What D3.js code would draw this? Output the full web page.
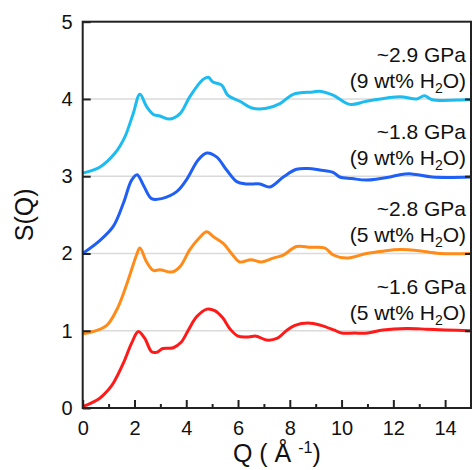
<!DOCTYPE html>
<html>
<head>
<meta charset="utf-8">
<script src="https://cdn.jsdelivr.net/npm/d3@7"></script>
<style>
  body { margin: 0; background: #fff; }
  svg { font-family: "Liberation Sans", Arial, sans-serif; }
</style>
</head>
<body>
<script>
// S(Q) curves (already stacked with their offsets)
var qRed = [0, 0.3, 0.67, 1.0, 1.18, 1.57, 1.89, 2.15, 2.4, 2.66, 2.85, 3.1, 3.5, 3.8, 4.1, 4.4, 4.8, 5.1, 5.4, 5.7, 6.0, 6.4, 6.7, 7.1, 7.5, 7.9, 8.2, 8.7, 9.2, 9.7, 10.0, 10.5, 11.0, 11.6, 12.5, 13.3, 14.0, 15.0];
var sRed = [0.02, 0.06, 0.13, 0.24, 0.32, 0.58, 0.84, 0.99, 0.90, 0.73, 0.72, 0.77, 0.78, 0.85, 1.02, 1.18, 1.28, 1.26, 1.17, 1.02, 0.93, 0.92, 0.93, 0.88, 0.90, 1.01, 1.07, 1.10, 1.07, 1.01, 0.97, 0.97, 0.97, 1.01, 1.03, 1.02, 1.01, 1.00];

var qOrange = [0, 0.4, 0.93, 1.37, 1.76, 2.08, 2.21, 2.47, 2.73, 2.98, 3.44, 3.76, 4.14, 4.5, 4.79, 5.04, 5.43, 5.75, 6.07, 6.5, 6.91, 7.36, 7.75, 8.26, 8.8, 9.36, 9.68, 10.19, 10.96, 11.6, 12.25, 12.9, 13.8, 15];
var sOrange = [0.96, 0.99, 1.07, 1.31, 1.66, 1.98, 2.07, 1.89, 1.78, 1.79, 1.76, 1.83, 2.05, 2.2, 2.28, 2.22, 2.13, 2.0, 1.89, 1.92, 1.89, 1.94, 1.98, 2.09, 2.08, 2.07, 1.98, 1.94, 2.0, 2.03, 2.05, 2.04, 2.0, 2.0];

var qBlue = [0, 0.67, 1.18, 1.57, 1.89, 2.1, 2.35, 2.66, 3.05, 3.63, 4.0, 4.46, 4.79, 5.17, 5.56, 5.95, 6.3, 6.59, 6.85, 7.23, 7.75, 8.26, 8.71, 9.16, 9.67, 9.93, 10.4, 10.96, 11.87, 12.25, 12.7, 13.5, 15];
var sBlue = [2.0, 2.17, 2.35, 2.65, 2.95, 3.02, 2.88, 2.71, 2.71, 2.80, 2.95, 3.21, 3.30, 3.25, 3.08, 2.93, 2.90, 2.90, 2.90, 2.86, 2.99, 3.09, 3.10, 3.08, 3.05, 2.99, 2.97, 2.95, 2.99, 3.02, 3.03, 2.99, 2.99];

var qCyan = [0, 0.67, 1.25, 1.63, 1.95, 2.21, 2.47, 2.73, 2.98, 3.37, 3.76, 4.14, 4.64, 4.85, 5.03, 5.37, 5.6, 6.07, 6.57, 7.1, 7.62, 8.13, 8.9, 9.16, 9.67, 10.32, 10.96, 12.25, 12.9, 13.2, 13.5, 14.8, 15];
var sCyan = [3.04, 3.12, 3.30, 3.51, 3.81, 4.06, 3.90, 3.80, 3.78, 3.74, 3.81, 4.03, 4.25, 4.28, 4.22, 4.18, 4.05, 3.97, 3.88, 3.88, 3.94, 4.06, 4.09, 4.1, 4.05, 3.93, 3.97, 4.03, 4.0, 4.04, 3.99, 3.99, 3.99];

var pressures = ["~1.6 GPa", "~2.8 GPa", "~1.8 GPa", "~2.9 GPa"];
var waterWt = ["5", "5", "9", "9"];
var colors = ["#ff1a1a", "#ff8c1a", "#1f5ff5", "#1cbcf0"];

var yTicks = [0, 1, 2, 3, 4, 5];
var xTicks = [0, 2, 4, 6, 8, 10, 12, 14];
var xMinor = [1, 3, 5, 7, 9, 11, 13];

var series = [
  {q: qRed, s: sRed},
  {q: qOrange, s: sOrange},
  {q: qBlue, s: sBlue},
  {q: qCyan, s: sCyan}
];

var W = 472, H = 470;
var margin = {left: 82.7, right: 1, top: 21.7, bottom: 62};

var svg = d3.select("body").append("svg")
  .attr("width", W)
  .attr("height", H);

var x = d3.scaleLinear().domain([0, 15]).range([margin.left, W - margin.right]);
var y = d3.scaleLinear().domain([0, 5]).range([H - margin.bottom, margin.top]);

// grid
svg.append("g").selectAll("line")
  .data([1, 2, 3, 4])
  .enter().append("line")
  .attr("x1", x(0)).attr("x2", x(15))
  .attr("y1", function(d){ return y(d); })
  .attr("y2", function(d){ return y(d); })
  .attr("stroke", "#dadada")
  .attr("stroke-width", 1.5);

// curves
var line = d3.line()
  .x(function(d){ return x(d[0]); })
  .y(function(d){ return y(d[1]); })
  .curve(d3.curveCatmullRom.alpha(0.5));

series.forEach(function(sr, i){
  var pts = sr.q.map(function(q, j){ return [q, sr.s[j]]; });
  svg.append("path")
    .datum(pts)
    .attr("d", line)
    .attr("fill", "none")
    .attr("stroke", colors[i])
    .attr("stroke-width", 3)
    .attr("stroke-linejoin", "round");
});

// axes
var yAxis = svg.append("g")
  .attr("transform", "translate(" + x(0) + ",0)")
  .call(d3.axisLeft(y).tickValues(yTicks).tickSize(-8).tickPadding(10).tickFormat(d3.format("d")));

var yAxisR = svg.append("g")
  .attr("transform", "translate(" + x(15) + ",0)")
  .call(d3.axisRight(y).tickValues([1, 2, 3, 4]).tickSize(-6).tickFormat(""));

var xAxis = svg.append("g")
  .attr("transform", "translate(0," + y(0) + ")")
  .call(d3.axisBottom(x).tickValues(xTicks).tickSize(-8).tickPadding(13).tickFormat(d3.format("d")));

var xMin = svg.append("g")
  .attr("transform", "translate(0," + y(0) + ")")
  .call(d3.axisBottom(x).tickValues(xMinor).tickSize(-4).tickFormat(""));

[yAxis, yAxisR, xAxis, xMin].forEach(function(a){
  a.select(".domain").remove();
  a.selectAll(".tick line").attr("stroke", "#222").attr("stroke-width", 2);
  a.selectAll("text").attr("font-size", 20).attr("fill", "#111")
    .attr("font-family", "'Liberation Sans', Arial, sans-serif");
});

// frame
svg.append("rect")
  .attr("x", x(0)).attr("y", y(5))
  .attr("width", x(15) - x(0)).attr("height", y(0) - y(5))
  .attr("fill", "none")
  .attr("stroke", "#222")
  .attr("stroke-width", 2);

// annotations
var labX = 466;
for (var i = 0; i < 4; i++) {
  var base = y(i + 1);
  svg.append("text")
    .attr("x", labX).attr("y", base - 37)
    .attr("text-anchor", "end")
    .attr("font-size", 21)
    .attr("fill", "#111")
    .text(pressures[i]);
  var t = svg.append("text")
    .attr("x", labX).attr("y", base - 11)
    .attr("text-anchor", "end")
    .attr("font-size", 21)
    .attr("fill", "#111");
  t.append("tspan").text("(" + waterWt[i] + " wt% H");
  t.append("tspan").attr("font-size", 14).attr("dy", 5).text("2");
  t.append("tspan").attr("dy", -5).text("O)");
}

// axis titles
var xt = svg.append("text")
  .attr("x", (x(0) + x(15)) / 2)
  .attr("y", 462)
  .attr("text-anchor", "middle")
  .attr("font-size", 25)
  .attr("fill", "#111");
xt.append("tspan").text("Q ( Å ");
xt.append("tspan").attr("font-size", 16).attr("dy", -9).text("-1");
xt.append("tspan").attr("dy", 9).text(")");

svg.append("text")
  .attr("transform", "translate(33," + (y(2.5)) + ") rotate(-90)")
  .attr("text-anchor", "middle")
  .attr("font-size", 25)
  .attr("fill", "#111")
  .text("S(Q)");
</script>
</body>
</html>
